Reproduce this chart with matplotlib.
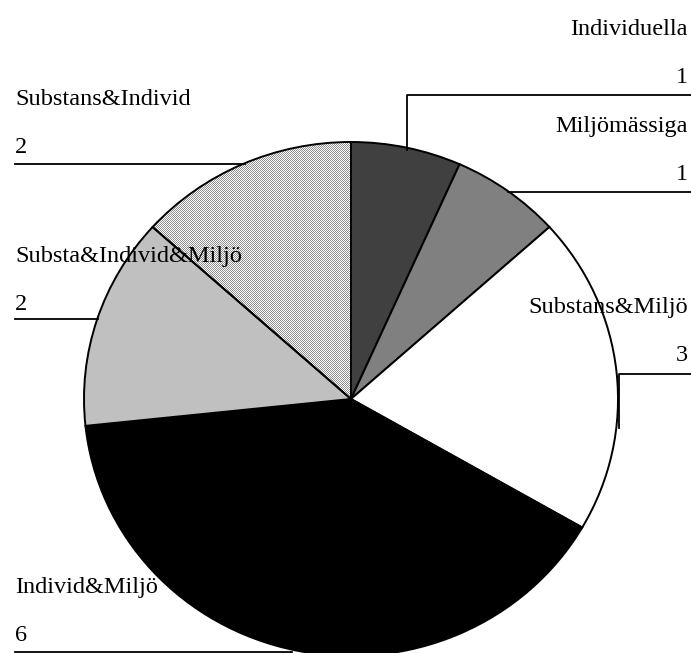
import matplotlib
matplotlib.use("Agg")
import matplotlib.pyplot as plt
import numpy as np

# Data
categories = ["Individuella", "Miljömässiga", "Substans&Miljö",
              "Individ&Miljö", "Substa&Individ&Miljö", "Substans&Individ"]
counts = [1, 1, 3, 6, 2, 2]
colors = ["#404040", "#808080", "#ffffff", "#000000", "#c0c0c0", "none"]

W, H = 691, 653
fig = plt.figure(figsize=(W / 100, H / 100), dpi=100)
plt.rcParams['font.family'] = ['Liberation Serif', 'DejaVu Serif']

# pie axes (slightly wider than tall, like the original)
cx, cy, rx, ry = 351, 399, 267, 257
ax = fig.add_axes([(cx - rx) / W, (H - cy - ry) / H, 2 * rx / W, 2 * ry / H])
wedges, _ = ax.pie(counts, colors=colors, startangle=90, counterclock=False,
                   wedgeprops=dict(edgecolor="black", linewidth=1.4))

# checkerboard stipple for Substans&Individ
yy, xx = np.mgrid[0:2 * ry, 0:2 * rx]
board = ((xx + yy) % 2).astype(float)
img = ax.imshow(board, extent=(-1, 1, -1, 1), cmap='gray', vmin=-1.3, vmax=1,
                interpolation='nearest', aspect='auto', zorder=0)
img.set_clip_path(wedges[5])

ax.set_aspect('auto')
ax.set_xlim(-1, 1)
ax.set_ylim(-1, 1)
ax.axis('off')
for w in wedges:
    w.set_clip_on(False)

# overlay in pixel coordinates for labels and leader lines
ov = fig.add_axes([0, 0, 1, 1])
ov.set_xlim(0, W)
ov.set_ylim(H, 0)
ov.axis('off')
ov.patch.set_alpha(0)

fs = 17.5
lw = 1.3
# right side labels
ov.text(688, 35, categories[0], ha='right', va='baseline', fontsize=fs)
ov.text(688, 83, str(counts[0]), ha='right', va='baseline', fontsize=fs)
ov.plot([691, 407, 407], [95, 95, 150], color='black', lw=lw)

ov.text(688, 132, categories[1], ha='right', va='baseline', fontsize=fs)
ov.text(688, 180, str(counts[1]), ha='right', va='baseline', fontsize=fs)
ov.plot([691, 508], [192, 192], color='black', lw=lw)

ov.text(688, 313, categories[2], ha='right', va='baseline', fontsize=fs)
ov.text(688, 361, str(counts[2]), ha='right', va='baseline', fontsize=fs)
ov.plot([691, 619, 619], [374, 374, 428], color='black', lw=lw)

# left side labels
ov.text(15, 593, categories[3], ha='left', va='baseline', fontsize=fs)
ov.text(15, 641, str(counts[3]), ha='left', va='baseline', fontsize=fs)
ov.plot([15, 292], [652, 652], color='black', lw=lw)

ov.text(15, 262, categories[4], ha='left', va='baseline', fontsize=fs)
ov.text(15, 310, str(counts[4]), ha='left', va='baseline', fontsize=fs)
ov.plot([15, 98], [319, 319], color='black', lw=lw)

ov.text(15, 105, categories[5], ha='left', va='baseline', fontsize=fs)
ov.text(15, 153, str(counts[5]), ha='left', va='baseline', fontsize=fs)
ov.plot([15, 245], [164, 164], color='black', lw=lw)

fig.savefig("out.png", dpi=100, facecolor='white')
